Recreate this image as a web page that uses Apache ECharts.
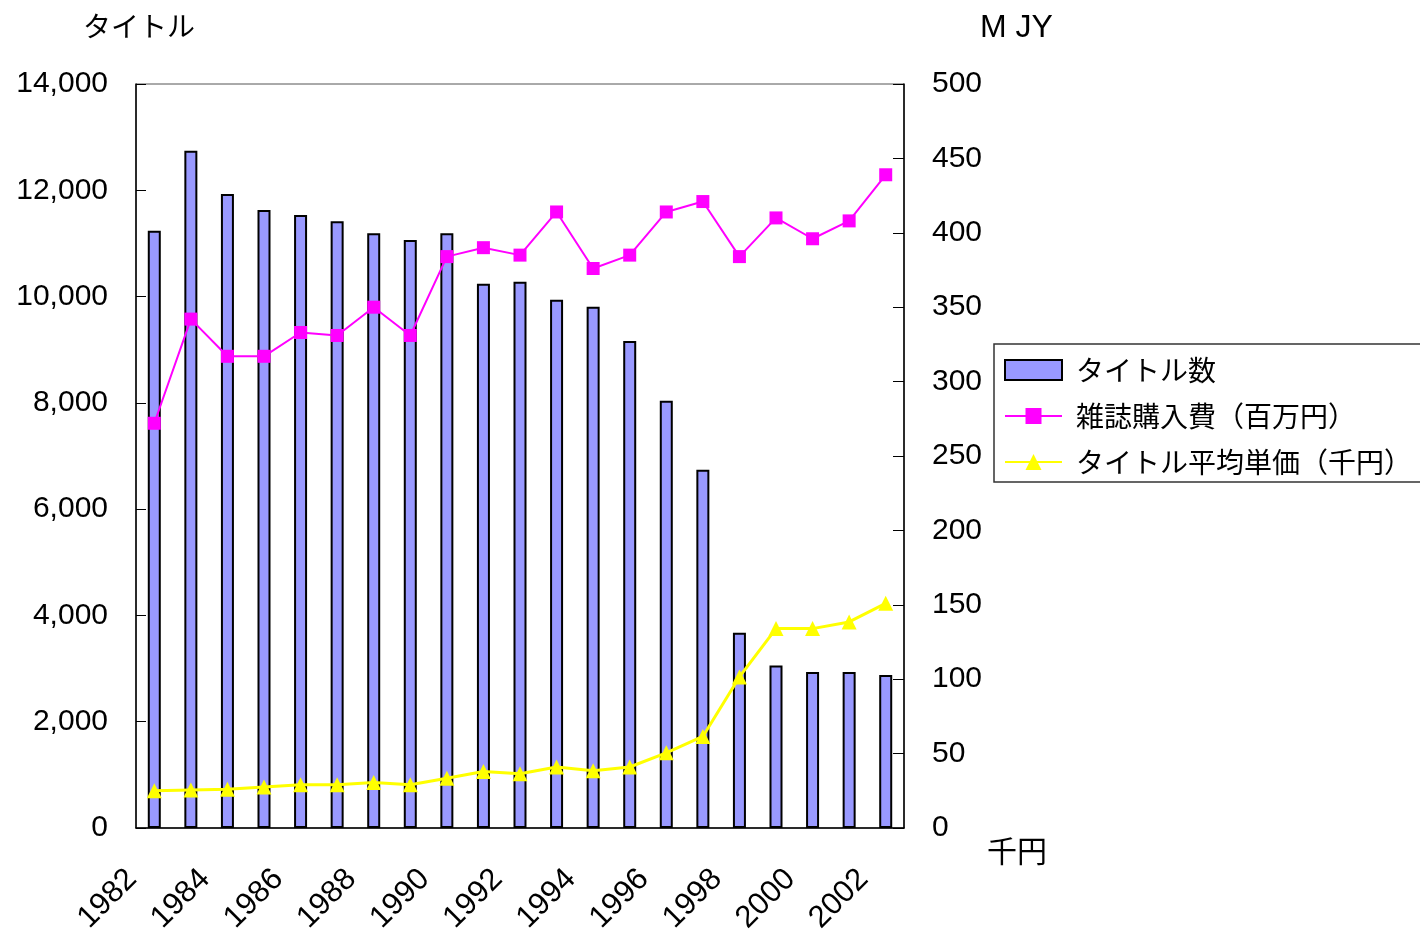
<!DOCTYPE html>
<html><head><meta charset="utf-8">
<script src="https://cdn.jsdelivr.net/npm/echarts@6/dist/echarts.min.js"></script>
<style>html,body{margin:0;padding:0;background:#fff;}#c{width:1420px;height:935px;}</style>
</head><body><div id="c"></div>
<script>
const years = ['1982','1983','1984','1985','1986','1987','1988','1989','1990','1991','1992','1993','1994','1995','1996','1997','1998','1999','2000','2001','2002'];
const titleCounts = [11240, 12745, 11930, 11630, 11535, 11415, 11190, 11065, 11190, 10240, 10280, 9940, 9810, 9165, 8040, 6740, 3675, 3060, 2935, 2935, 2880];
const magazineSpend = [272, 342, 317, 317, 333, 331, 350, 331, 384, 390, 385, 414, 376, 385, 414, 421, 384, 410, 396, 408, 439];
const unitPrice = [25, 25.5, 26, 27.5, 29, 29, 30.5, 29, 33.5, 38, 36.5, 41, 38.5, 41, 50.5, 61.5, 101.5, 134, 134, 138.5, 151];
const seriesNames = ['タイトル数', '雑誌購入費（百万円）', 'タイトル平均単価（千円）'];

const FONT = '"Liberation Sans", "Noto Sans CJK JP", sans-serif';
const chart = echarts.init(document.getElementById('c'));
chart.setOption({
  backgroundColor: '#fff',
  animation: false,
  textStyle: { fontFamily: FONT, color: '#000' },
  grid: { left: 136, right: 516, top: 84, bottom: 107, show: true, borderColor: '#555', borderWidth: 1, containLabel: false, outerBoundsMode: 'none' },
  legend: {
    orient: 'vertical', left: 994, top: 344,
    padding: [11, 40, 5, 10],
    itemWidth: 57, itemHeight: 20, itemGap: 16,
    borderColor: '#333', borderWidth: 1.5,
    textStyle: { fontSize: 28, fontFamily: '"Noto Sans CJK JP", sans-serif', color: '#000', padding: [0, 0, 0, 9], lineHeight: 30 },
    data: [{ name: seriesNames[0], icon: 'rect' }, { name: seriesNames[1] }, { name: seriesNames[2] }]
  },
  xAxis: {
    type: 'category', data: years, boundaryGap: true,
    axisLine: { lineStyle: { color: '#000', width: 1.5 } },
    axisTick: { inside: true, length: 11, interval: 0, lineStyle: { color: '#444' } },
    axisLabel: { interval: 1, rotate: 45, fontSize: 31, color: '#000', fontFamily: FONT, margin: 46, verticalAlign: 'bottom', padding: [0, 16, 0, 0] }
  },
  yAxis: [{
    type: 'value', min: 0, max: 14000, interval: 2000,
    name: 'タイトル', nameLocation: 'end', nameGap: 44,
    nameTextStyle: { fontSize: 28, fontFamily: '"Noto Sans CJK JP", sans-serif', color: '#000', align: 'center', padding: [0, 0, 0, 6] },
    splitLine: { show: false },
    axisLine: { show: true, lineStyle: { color: '#000', width: 1.5 } },
    axisTick: { show: true, inside: true, length: 10, lineStyle: { color: '#000' } },
    axisLabel: { fontSize: 30, color: '#000', margin: 28, padding: [6, 0, 0, 0], formatter: v => v.toLocaleString('en-US') }
  }, {
    type: 'value', min: 0, max: 500, interval: 50, position: 'right',
    splitLine: { show: false },
    axisLine: { show: true, lineStyle: { color: '#000', width: 1.5 } },
    axisTick: { show: true, inside: true, length: 11, lineStyle: { color: '#000' } },
    axisLabel: { fontSize: 30, color: '#000', margin: 28, padding: [6, 0, 0, 0] }
  }],
  graphic: [
    { type: 'text', left: 980, top: 12, style: { text: 'M JY', font: '32px "Liberation Sans", sans-serif', fill: '#000' } },
    { type: 'text', left: 987, top: 836, style: { text: '千円', font: '30px "Noto Sans CJK JP", sans-serif', fill: '#000' } }
  ],
  series: [{
    name: seriesNames[0], type: 'bar', yAxisIndex: 0, data: titleCounts, barWidth: 13,
    itemStyle: { color: '#9999FF', borderColor: '#000', borderWidth: 2 }
  }, {
    name: seriesNames[1], type: 'line', yAxisIndex: 1, data: magazineSpend,
    symbol: 'rect', symbolSize: 13,
    lineStyle: { color: '#FF00FF', width: 2 }, itemStyle: { color: '#FF00FF' }
  }, {
    name: seriesNames[2], type: 'line', yAxisIndex: 1, data: unitPrice,
    symbol: 'triangle', symbolSize: 15,
    lineStyle: { color: '#FFFF00', width: 3 }, itemStyle: { color: '#FFFF00' }
  }]
});
</script></body></html>
